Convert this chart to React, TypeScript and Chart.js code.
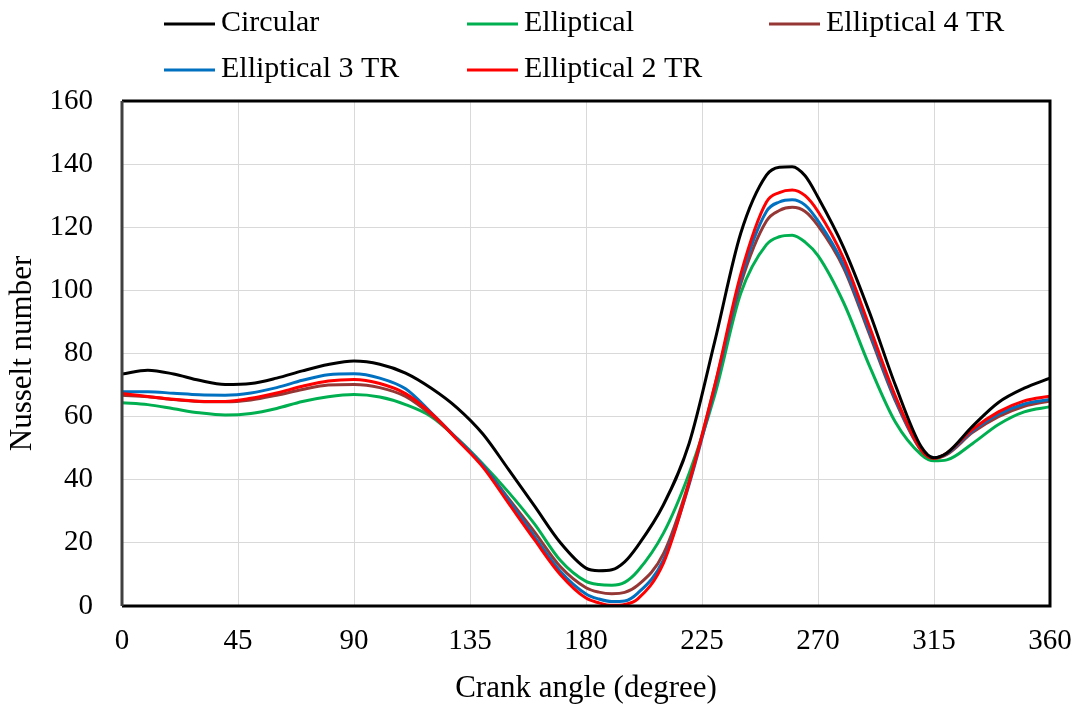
import React, { useEffect, useRef } from "react";
import { Chart, registerables } from "chart.js";

Chart.register(...registerables);

const angles = [0, 10, 20, 30, 40, 50, 60, 70, 80, 90, 100, 110, 120, 130, 140, 150, 160, 170, 180, 185, 190, 195, 200, 210, 220, 230, 240, 250, 255, 260, 265, 270, 280, 290, 300, 310, 315, 320, 330, 340, 350, 360];

const circular = [73.5, 74.7, 73.5, 71.5, 70.2, 70.5, 72.2, 74.5, 76.5, 77.6, 76.6, 73.8, 69, 62.8, 54.5, 43.2, 31.7, 20.1, 12, 11.2, 11.5, 14, 19, 32, 51.5, 84, 118, 136.5, 139, 139.2, 136.3, 129.5, 113.5, 93, 70, 50.5, 47, 48.5, 57, 64.5, 69, 72.2];
const elliptical = [64.4, 63.8, 62.5, 61.2, 60.5, 61, 62.6, 64.8, 66.3, 67, 66.2, 63.8, 60, 53.1, 45, 36, 26, 14.5, 7.8, 6.8, 6.6, 7.5, 11, 23, 42, 67, 99, 114.5, 117, 117.5, 115.3, 111, 96, 76, 58.3, 48, 46, 46.3, 51.5, 57.5, 61.5, 63.1];
const elliptical4TR = [66.8, 66.3, 65.4, 64.8, 64.7, 65.3, 66.8, 68.6, 70, 70.2, 69.2, 66.4, 60.5, 53, 44.5, 34, 23.5, 12.5, 5.8, 4.4, 3.9, 4.3, 6.5, 16.5, 39.5, 70, 102, 122, 125.3, 126.3, 125, 120.5, 107, 86, 65, 49.3, 46.8, 48, 55, 60, 63.3, 65];
const elliptical3TR = [67.9, 67.9, 67.4, 66.9, 66.8, 67.5, 69.2, 71.5, 73.3, 73.6, 72.2, 68.8, 61.2, 53, 44.5, 33.5, 22, 11, 3.8, 2.2, 1.4, 1.6, 4, 14.5, 38.5, 69, 103.5, 125, 128, 128.7, 127, 122, 108, 87, 65.5, 49.5, 47, 48.3, 55.5, 60.8, 64, 65.4];
const elliptical2TR = [67.3, 66.4, 65.5, 64.9, 64.8, 65.8, 67.5, 69.6, 71.3, 71.8, 70.5, 67.3, 61, 52.7, 44, 32.5, 21, 10, 2.5, 1, 0.2, 0.5, 2.2, 13.5, 39, 70, 105, 128, 131, 131.8, 130, 125, 110, 88.5, 66.5, 49.5, 46.8, 48.5, 56, 61.5, 65, 66.5];

const seriesNames = ["Circular", "Elliptical", "Elliptical 4 TR", "Elliptical 3 TR", "Elliptical 2 TR"];
const seriesValues = [circular, elliptical, elliptical4TR, elliptical3TR, elliptical2TR];
const seriesColors = ["#000000", "#00b050", "#953735", "#0070c0", "#ff0000"];

const xTicks = [0, 45, 90, 135, 180, 225, 270, 315, 360];
const yTicks = [0, 20, 40, 60, 80, 100, 120, 140, 160];

const FONT = '"Liberation Serif", "Times New Roman", serif';

// legend slot positions (layout only)
const legendCols = [164, 467, 769];
const legendRows = [24, 70];

const legendPlugin = {
  id: "customLegend",
  afterDraw(chart: any) {
    const ctx = chart.ctx;
    ctx.save();
    ctx.font = `30px ${FONT}`;
    ctx.textBaseline = "middle";
    ctx.textAlign = "left";
    chart.data.datasets.forEach((ds: any, i: number) => {
      const col = i % 3;
      const row = Math.floor(i / 3);
      const x = legendCols[col];
      const y = legendRows[row];
      ctx.strokeStyle = ds.borderColor;
      ctx.lineWidth = 3;
      ctx.beginPath();
      ctx.moveTo(x, y);
      ctx.lineTo(x + 51, y);
      ctx.stroke();
      ctx.fillStyle = "#000";
      ctx.fillText(ds.label, x + 57, y - 1);
    });
    ctx.restore();
  },
};

const framePlugin = {
  id: "frame",
  afterDatasetsDraw(chart: any) {
    const { ctx, chartArea } = chart;
    const { left, top, right, bottom } = chartArea;
    ctx.save();
    ctx.lineWidth = 3;
    ctx.strokeStyle = "#000";
    ctx.beginPath();
    ctx.moveTo(left, top);
    ctx.lineTo(right, top);
    ctx.lineTo(right, bottom);
    ctx.lineTo(left, bottom);
    ctx.stroke();
    ctx.strokeStyle = "#404040";
    ctx.beginPath();
    ctx.moveTo(left, bottom);
    ctx.lineTo(left, top);
    ctx.stroke();
    ctx.restore();
  },
};

export default function App() {
  const canvasRef = useRef<HTMLCanvasElement | null>(null);

  useEffect(() => {
    if (!canvasRef.current) return;
    const datasets = seriesNames.map((name, i) => ({
      label: name,
      data: angles.map((a, j) => ({ x: a, y: seriesValues[i][j] })),
      borderColor: seriesColors[i],
      backgroundColor: seriesColors[i],
      borderWidth: 3,
      pointRadius: 0,
      fill: false,
      cubicInterpolationMode: "monotone" as const,
      order: [0, 4, 3, 2, 1][i],
    }));

    const chart = new Chart(canvasRef.current, {
      type: "line",
      data: { datasets },
      plugins: [legendPlugin, framePlugin],
      options: {
        animation: false,
        responsive: true,
        maintainAspectRatio: false,
        layout: { padding: { top: 101, right: 27, bottom: 0, left: 0 } },
        plugins: {
          legend: { display: false },
          tooltip: { enabled: false },
        },
        scales: {
          x: {
            type: "linear",
            min: 0,
            max: 360,
            afterFit: (scale: any) => {
              scale.height = 101;
              scale.paddingLeft = 0;
              scale.paddingRight = 0;
            },
            afterBuildTicks: (scale: any) => {
              scale.ticks = xTicks.map((v) => ({ value: v }));
            },
            ticks: {
              color: "#000",
              padding: 18,
              maxRotation: 0,
              font: { family: FONT, size: 29 },
            },
            grid: { color: "#d9d9d9", lineWidth: 1, drawTicks: false },
            border: { display: false },
            title: {
              display: true,
              text: "Crank angle (degree)",
              color: "#000",
              font: { family: FONT, size: 31 },
              padding: { top: 0, bottom: 0 },
            },
          },
          y: {
            type: "linear",
            min: 0,
            max: 160,
            afterFit: (scale: any) => {
              scale.width = 122;
              scale.paddingTop = 0;
              scale.paddingBottom = 0;
            },
            afterBuildTicks: (scale: any) => {
              scale.ticks = yTicks.map((v) => ({ value: v }));
            },
            ticks: {
              color: "#000",
              padding: 29,
              font: { family: FONT, size: 29 },
            },
            grid: { color: "#d9d9d9", lineWidth: 1, drawTicks: false },
            border: { display: false },
            title: {
              display: true,
              text: "Nusselt number",
              color: "#000",
              font: { family: FONT, size: 31 },
              padding: { top: 4, bottom: 0 },
            },
          },
        },
      },
    });
    return () => chart.destroy();
  }, []);

  return (
    <div style={{ position: "absolute", left: 0, top: 0, width: 1077, height: 707, background: "#fff" }}>
      <canvas ref={canvasRef} />
    </div>
  );
}
